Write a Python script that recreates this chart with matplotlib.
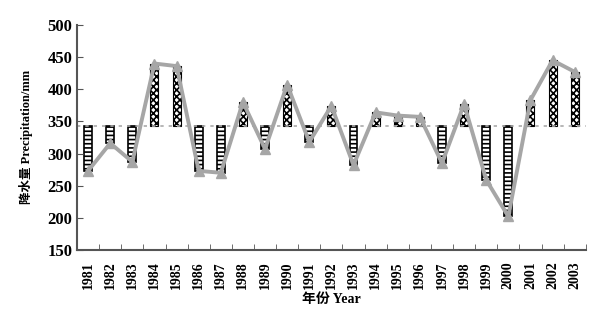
import matplotlib
matplotlib.use('Agg')
import matplotlib.pyplot as plt

plt.rcParams['hatch.linewidth'] = 1.2

years = list(range(1981, 2004))
precip = [273, 316, 287, 440, 436, 273, 270, 380, 307, 407, 318, 374, 282,
          364, 359, 357, 285, 377, 259, 202, 383, 445, 427]
mean_precip = 343

fig = plt.figure(figsize=(6.02, 3.12), dpi=100)
ax = fig.add_axes([0.128, 0.199, 0.845, 0.721])

x = list(range(len(years)))

# bars from the mean to each year's value
for xi, v in zip(x, precip):
    if v >= mean_precip:
        ax.bar(xi, v - mean_precip, bottom=mean_precip, width=0.36,
               facecolor='white', edgecolor='black', hatch='xxxxx', linewidth=0.8)
    else:
        ax.bar(xi, v - mean_precip, bottom=mean_precip, width=0.36,
               facecolor='white', edgecolor='black', hatch='----', linewidth=1.2)

ax.axhline(mean_precip, color='#aaaaaa', linestyle=(0, (2, 3)), linewidth=1.2, zorder=1)
ax.plot(x, precip, color='#a6a6a6', linewidth=2.8, marker='^', markersize=7,
        markerfacecolor='#a6a6a6', markeredgecolor='#a6a6a6', zorder=3)

ax.set_xlim(-0.5, len(years) - 0.5)
ax.set_ylim(150, 500)
ax.set_yticks(range(150, 501, 50))

serif = {'family': 'Liberation Serif', 'weight': 'bold', 'size': 10}
ax.set_xticks(x)
ax.set_xticklabels([str(y) for y in years], rotation=90, fontdict=serif)
ax.set_xticks([i - 0.5 for i in range(len(years) + 1)], minor=True)
ax.tick_params(axis='x', which='major', length=0, pad=8)
ax.tick_params(axis='x', which='minor', direction='in', length=4, color='#555555')
ax.tick_params(axis='y', direction='in', length=4, color='#555555')
for lab in ax.get_yticklabels():
    lab.set_fontfamily('Liberation Serif')
    lab.set_fontweight('bold')
    lab.set_fontsize(12)

for s in ['top', 'right']:
    ax.spines[s].set_visible(False)
for s in ['left', 'bottom']:
    ax.spines[s].set_color('#555555')
    ax.spines[s].set_linewidth(1.5)

fam = ['Liberation Serif', 'Noto Sans CJK SC']
ax.set_ylabel('降水量 Precipitation/mm', family=fam, fontweight='bold', fontsize=9, labelpad=10)
ax.set_xlabel('年份 Year', family=fam, fontweight='bold', fontsize=10, labelpad=3)

fig.savefig('out.png', dpi=100)
